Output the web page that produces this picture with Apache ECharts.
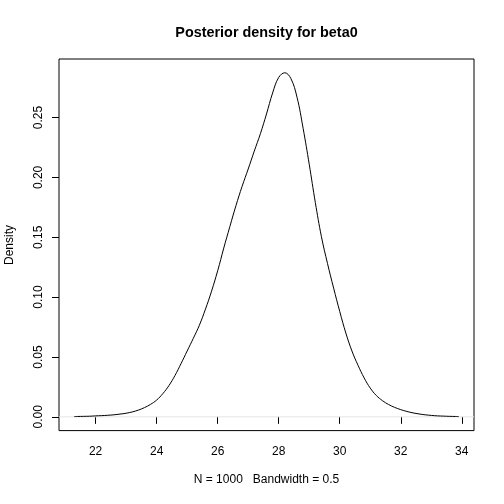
<!DOCTYPE html>
<html>
<head>
<meta charset="utf-8">
<script src="https://cdn.jsdelivr.net/npm/echarts@6/dist/echarts.min.js"></script>
<style>html,body{margin:0;padding:0;background:#fff}#c{width:504px;height:504px}</style>
</head>
<body>
<div id="c"></div>
<script>
const xs = [21.3,21.4,21.6,21.8,22.0,22.2,22.4,22.6,22.8,23.0,23.2,23.4,23.6,23.8,24.0,24.2,24.4,24.6,24.8,25.0,25.2,25.4,25.6,25.8,26.0,26.2,26.4,26.6,26.8,27.0,27.2,27.4,27.6,27.8,28.0,28.2,28.4,28.6,28.8,29.0,29.2,29.4,29.6,29.8,30.0,30.2,30.4,30.6,30.8,31.0,31.2,31.4,31.6,31.8,32.0,32.2,32.4,32.6,32.8,33.0,33.2,33.4,33.6,33.8,33.9];
const dens = [0.0002,0.0003,0.0004,0.0005,0.0008,0.0010,0.0013,0.0017,0.0023,0.0030,0.0041,0.0056,0.0077,0.0104,0.0140,0.0193,0.0260,0.0345,0.0445,0.0550,0.0655,0.0765,0.0900,0.1050,0.1220,0.1410,0.1590,0.1765,0.1925,0.2070,0.2220,0.2365,0.2530,0.2705,0.2835,0.2874,0.2825,0.2670,0.2410,0.2110,0.1790,0.1505,0.1280,0.1075,0.0880,0.0700,0.0550,0.0430,0.0325,0.0240,0.0178,0.0135,0.0103,0.0079,0.0060,0.0045,0.0033,0.0024,0.0017,0.0012,0.0008,0.0006,0.0004,0.0003,0.0002];
const xTicks = [22,24,26,28,30,32,34];
const yTicks = [0,0.05,0.10,0.15,0.20,0.25];
const titleText = 'Posterior density for beta0';
const subText = 'N = 1000   Bandwidth = 0.5';
const yName = 'Density';

const font = 'Liberation Sans, Arial, Helvetica, sans-serif';
const chart = echarts.init(document.getElementById('c'), null, {renderer:'canvas'});
chart.setOption({
  animation:false,
  backgroundColor:'#fff',
  grid:{left:59,top:59,right:30,bottom:73.4,show:true,borderColor:'#000',borderWidth:1,backgroundColor:'transparent'},
  xAxis:{type:'value',min:20.8,max:34.4,
    axisLine:{show:false},splitLine:{show:false},
    axisTick:{show:true,inside:false,length:7,lineStyle:{color:'#000',width:1},customValues:xTicks},
    axisLabel:{show:true,margin:15,color:'#000',fontSize:12,fontFamily:font,customValues:xTicks,formatter:v=>String(v)}
  },
  yAxis:{type:'value',min:-0.0115,max:0.2989,
    axisLine:{show:false},splitLine:{show:false},
    axisTick:{show:true,inside:false,length:7,lineStyle:{color:'#000',width:1},customValues:yTicks},
    axisLabel:{show:true,margin:14,rotate:90,color:'#000',fontSize:12,fontFamily:font,customValues:yTicks,formatter:v=>v.toFixed(2)}
  },
  series:[
    {type:'line',data:[[20.8,0],[34.4,0]],showSymbol:false,symbol:'none',lineStyle:{color:'#e4e4e4',width:1},z:1,silent:true},
    {type:'line',data:xs.map((x,i)=>[x,dens[i]]),smooth:0.4,showSymbol:false,symbol:'none',lineStyle:{color:'#000',width:1},z:2}
  ],
  graphic:[
    {type:'text',style:{x:266.5,y:33,text:titleText,fontSize:14.4,fontWeight:'bold',fontFamily:font,fill:'#000',align:'center',verticalAlign:'middle'}},
    {type:'text',style:{x:266.5,y:480,text:subText,fontSize:12,fontFamily:font,fill:'#000',align:'center',verticalAlign:'middle'}},
    {type:'text',x:10,y:245,rotation:Math.PI/2,style:{x:0,y:0,text:yName,fontSize:12,fontFamily:font,fill:'#000',align:'center',verticalAlign:'middle'}}
  ]
});
</script>
</body>
</html>
